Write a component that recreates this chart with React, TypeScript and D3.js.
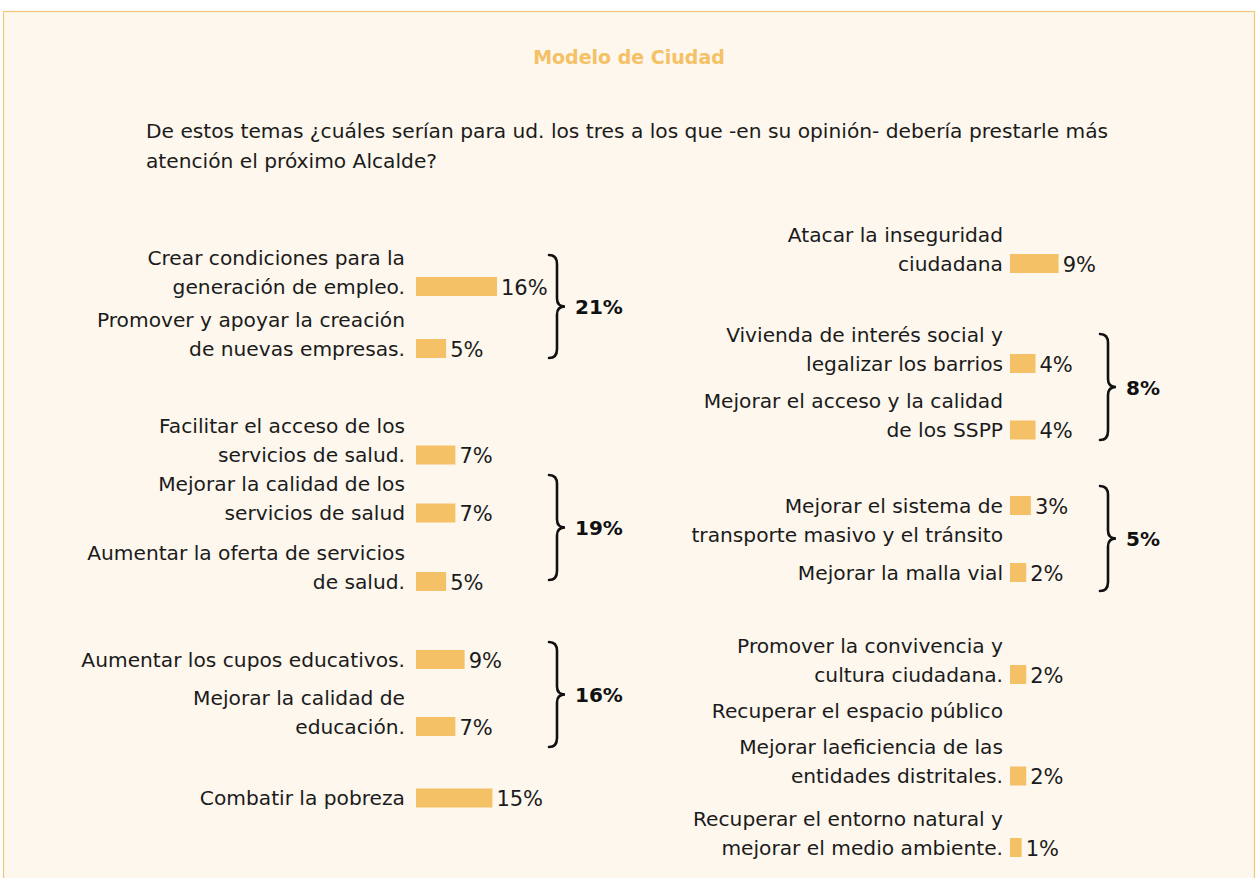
import { useEffect, useRef } from "react";
import * as d3 from "d3";

const TITLE = "Modelo de Ciudad";
const QUESTION = [
  "De estos temas ¿cuáles serían para ud. los tres a los que -en su opinión- debería prestarle más",
  "atención el próximo Alcalde?",
];

// left column
const leftLabels = [
  ["Crear condiciones para la", "generación de empleo."],
  ["Promover y apoyar la creación", "de nuevas empresas."],
  ["Facilitar el acceso de los", "servicios de salud."],
  ["Mejorar la calidad de los", "servicios de salud"],
  ["Aumentar la oferta de servicios", "de salud."],
  ["Aumentar los cupos educativos."],
  ["Mejorar la calidad de", "educación."],
  ["Combatir la pobreza"],
];
const leftValues = [16, 5, 7, 7, 5, 9, 7, 15];

// right column (null = no bar shown)
const rightLabels = [
  ["Atacar la inseguridad", "ciudadana"],
  ["Vivienda de interés social y", "legalizar los barrios"],
  ["Mejorar el acceso y la calidad", "de los SSPP"],
  ["Mejorar el sistema de", "transporte masivo y el tránsito"],
  ["Mejorar la malla vial"],
  ["Promover la convivencia y", "cultura ciudadana."],
  ["Recuperar el espacio público"],
  ["Mejorar laeficiencia de las", "entidades distritales."],
  ["Recuperar el entorno natural y", "mejorar el medio ambiente."],
];
const rightValues = [9, 4, 4, 3, 2, 2, null, 2, 1];

// group totals
const leftGroupTotals = ["21%", "19%", "16%"];
const rightGroupTotals = ["8%", "5%"];

// layout (pixel positions of rows / braces, not data)
const leftRowY = [286.5, 348.5, 455, 513, 581.5, 659.5, 726.5, 798];
const rightRowY = [263.5, 363.5, 430, 505.5, 572.5, 674.5, 711, 776, 847.5];
const rightBarLine = [1, 1, 1, 0, 0, 1, 0, 1, 1];
const leftBraces = [
  [255, 358],
  [475, 580],
  [642, 747],
];
const rightBraces = [
  [334, 440],
  [486, 591],
];

const W = 1258;
const H = 878;
const FONT = "'DejaVu Sans', Verdana, sans-serif";
const BAR = "#F5C166";
const INK = "#1b1b1b";

function bracePath(x: number, y0: number, y1: number, w: number) {
  const mid = (y0 + y1) / 2;
  const sx = x + w * 0.5;
  const p = d3.path();
  p.moveTo(x, y0);
  p.quadraticCurveTo(sx, y0, sx, y0 + 9);
  p.lineTo(sx, mid - 8);
  p.quadraticCurveTo(sx, mid, x + w, mid);
  p.quadraticCurveTo(sx, mid, sx, mid + 8);
  p.lineTo(sx, y1 - 9);
  p.quadraticCurveTo(sx, y1, x, y1);
  return p.toString();
}

export default function App() {
  const ref = useRef<SVGSVGElement>(null);

  useEffect(() => {
    const svg = d3.select(ref.current);
    svg.selectAll("*").remove();

    svg
      .append("rect")
      .attr("x", 3.5)
      .attr("y", 11.5)
      .attr("width", 1251)
      .attr("height", 900)
      .attr("fill", "#FDF7EE")
      .attr("stroke", "#F3C67A")
      .attr("stroke-width", 1.2);

    svg
      .append("text")
      .attr("x", 629)
      .attr("y", 64)
      .attr("text-anchor", "middle")
      .attr("font-family", FONT)
      .attr("font-size", 19)
      .attr("font-weight", "bold")
      .attr("fill", "#F5C166")
      .text(TITLE);

    svg
      .append("g")
      .selectAll("text")
      .data(QUESTION)
      .join("text")
      .attr("x", 146)
      .attr("y", (_, i) => 138 + i * 30)
      .attr("font-family", FONT)
      .attr("font-size", 20.2)
      .attr("fill", INK)
      .text((d) => d);

    const w = d3.scaleLinear().domain([0, 16]).range([7, 81]);
    const lineH = 29;

    function column(
      labels: string[][],
      values: (number | null)[],
      rows: number[],
      barLine: number[] | null,
      textRight: number,
      barX: number
    ) {
      const g = svg.append("g").attr("font-family", FONT).attr("font-size", 20.2).attr("fill", INK);
      labels.forEach((lines, i) => {
        const bl = barLine ? barLine[i] : lines.length - 1;
        const cy = rows[i];
        lines.forEach((ln, j) => {
          g.append("text")
            .attr("x", textRight)
            .attr("y", cy + 7 + (j - bl) * lineH)
            .attr("text-anchor", "end")
            .text(ln);
        });
        const v = values[i];
        if (v == null) return;
        g.append("rect")
          .attr("x", barX)
          .attr("y", cy - 9.5)
          .attr("width", w(v))
          .attr("height", 19)
          .attr("fill", BAR);
        g.append("text")
          .attr("x", barX + w(v) + 4)
          .attr("y", cy + 8)
          .attr("font-size", 21)
          .text(`${v}%`);
      });
    }

    column(leftLabels, leftValues, leftRowY, null, 405, 416);
    column(rightLabels, rightValues, rightRowY, rightBarLine, 1003, 1010);

    function braces(spans: number[][], totals: string[], x: number) {
      const g = svg.append("g");
      spans.forEach(([y0, y1], i) => {
        g.append("path")
          .attr("d", bracePath(x, y0, y1, 16))
          .attr("fill", "none")
          .attr("stroke", "#111")
          .attr("stroke-width", 2.6)
          .attr("stroke-linecap", "round");
        g.append("text")
          .attr("x", x + 26)
          .attr("y", (y0 + y1) / 2 + 7.5)
          .attr("font-family", FONT)
          .attr("font-size", 20)
          .attr("font-weight", "bold")
          .attr("fill", "#111")
          .text(totals[i]);
      });
    }

    braces(leftBraces, leftGroupTotals, 549);
    braces(rightBraces, rightGroupTotals, 1100);
  }, []);

  return (
    <svg
      ref={ref}
      width={W}
      height={H}
      style={{ position: "absolute", left: 0, top: 0, background: "#fff" }}
    />
  );
}
